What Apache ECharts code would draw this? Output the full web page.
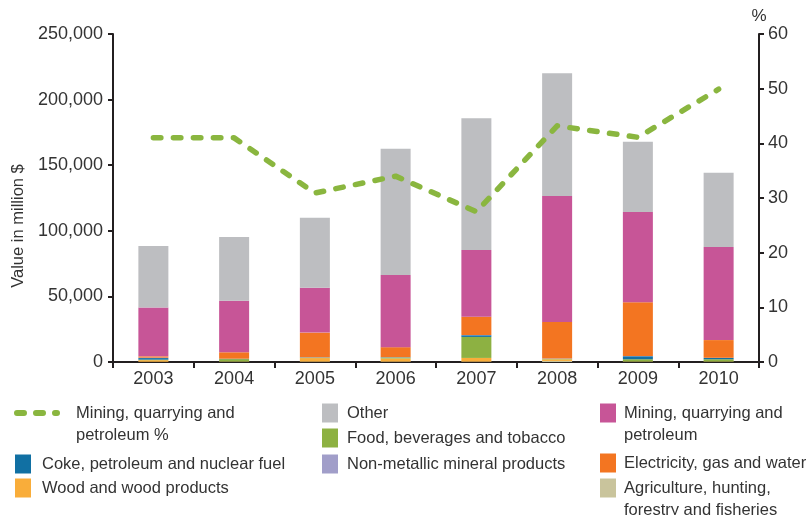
<!DOCTYPE html>
<html>
<head>
<meta charset="utf-8">
<script src="https://cdn.jsdelivr.net/npm/echarts@6/dist/echarts.min.js"></script>
<style>
  html, body { margin: 0; padding: 0; background: #fff; }
  #chart { width: 811px; height: 515px; }
</style>
</head>
<body>
<div id="chart"></div>
<script>
// Foreign direct investment stock by sector, 2003-2010 (million $)
const years = ['2003', '2004', '2005', '2006', '2007', '2008', '2009', '2010'];

const agriculture = [200, 200, 300, 300, 300, 800, 200, 200];
const wood        = [1200, 200, 2700, 2400, 2800, 1200, 200, 200];
const food        = [400, 1800, 300, 700, 16000, 300, 1700, 1700];
const coke        = [1200, 200, 200, 200, 1300, 200, 2300, 1000];
const nonMetallic = [300, 100, 100, 100, 200, 100, 200, 100];
const electricity = [1000, 4900, 18800, 7600, 13900, 27900, 40900, 13500];
const mining      = [37200, 39200, 34200, 55100, 50900, 96000, 68800, 70950];
const other       = [47000, 48600, 53400, 96050, 100350, 93550, 53600, 56650];

// Mining, quarrying and petroleum share (%)
const miningShare = [41.0, 41.0, 30.9, 34.0, 27.5, 43.2, 41.1, 49.9];

const valueTicks = { min: 0, max: 250000, interval: 50000 };
const shareTicks = { min: 0, max: 60, interval: 10 };

const NAMES = {
  share: 'Mining, quarrying and petroleum %',
  other: 'Other',
  mining: 'Mining, quarrying and petroleum',
  food: 'Food, beverages and tobacco',
  coke: 'Coke, petroleum and nuclear fuel',
  nonmet: 'Non-metallic mineral products',
  elec: 'Electricity, gas and water',
  wood: 'Wood and wood products',
  agri: 'Agriculture, hunting, forestry and fisheries'
};

const COLORS = {
  agri: '#c9c49c',
  wood: '#f9ad3a',
  food: '#8db142',
  coke: '#1170a3',
  nonmet: '#a19ec9',
  elec: '#f37521',
  mining: '#c75597',
  other: '#bdbec1',
  share: '#8ab63f'
};

const FONT = '"Liberation Sans", Arial, sans-serif';
const TEXT = '#333333';
const AXIS = '#231f20';

// Three rounded dashes, used as the key symbol of the share line
const DASH_ICON = 'path://M3,0H10A3,3 0 0 1 10,6H3A3,3 0 0 1 3,0Z' +
  'M22,0H29A3,3 0 0 1 29,6H22A3,3 0 0 1 22,0Z' +
  'M41,0H43A3,3 0 0 1 43,6H41A3,3 0 0 1 41,0Z';

const chart = echarts.init(document.getElementById('chart'), null, { renderer: 'canvas' });

function barSeries(key, data) {
  return {
    name: NAMES[key],
    type: 'bar',
    stack: 'total',
    barWidth: 30,
    data: data,
    itemStyle: { color: COLORS[key] },
    emphasis: { disabled: true }
  };
}

// One legend block per entry so each sits in its own slot of the three-column key.
// Two-line labels get a leading blank line so the symbol lines up with the first line.
function legendItem(name, left, top, opts) {
  opts = opts || {};
  const item = {
    show: true,
    orient: 'vertical',
    left: left,
    top: top,
    padding: 0,
    data: [name],
    selectedMode: false,
    icon: opts.icon || 'rect',
    itemWidth: opts.itemWidth || 16,
    itemHeight: opts.itemHeight || 19,
    textStyle: {
      fontFamily: FONT,
      fontSize: 16.5,
      color: TEXT,
      lineHeight: 22,
      padding: [0, 0, 0, opts.pad || 0]
    }
  };
  if (opts.lines) {
    item.formatter = () => '\n' + opts.lines.join('\n');
  }
  return item;
}

const legends = [
  legendItem(NAMES.share, 14, 380, { itemWidth: 46, itemHeight: 6, pad: 11, icon: DASH_ICON,
    lines: ['Mining, quarrying and', 'petroleum %'] }),
  legendItem(NAMES.coke, 15, 453, { pad: 6 }),
  legendItem(NAMES.wood, 15, 477, { pad: 6 }),
  legendItem(NAMES.other, 322, 402, { pad: 4 }),
  legendItem(NAMES.food, 322, 427, { pad: 4 }),
  legendItem(NAMES.nonmet, 322, 453, { pad: 4 }),
  legendItem(NAMES.mining, 600, 380, { pad: 3,
    lines: ['Mining, quarrying and', 'petroleum'] }),
  legendItem(NAMES.elec, 600, 452, { pad: 3 }),
  legendItem(NAMES.agri, 600, 455, { pad: 3,
    lines: ['Agriculture, hunting,', 'forestry and fisheries'] })
];

const option = {
  animation: false,
  backgroundColor: '#ffffff',
  textStyle: { fontFamily: FONT },
  grid: { left: 113, right: 52, top: 34, bottom: 153, containLabel: false },
  legend: legends,
  xAxis: {
    type: 'category',
    data: years,
    boundaryGap: true,
    axisLine: { show: true, lineStyle: { color: AXIS, width: 2 } },
    axisTick: { show: true, length: 6, lineStyle: { color: AXIS, width: 2 } },
    axisLabel: { fontFamily: FONT, fontSize: 18, color: TEXT, margin: 8 },
    splitLine: { show: false }
  },
  yAxis: [
    {
      type: 'value',
      min: valueTicks.min,
      max: valueTicks.max,
      interval: valueTicks.interval,
      name: 'Value in million $',
      nameLocation: 'middle',
      nameGap: 84,
      nameTextStyle: { fontFamily: FONT, fontSize: 16.5, color: TEXT, padding: [0, 56, 0, 0] },
      axisLine: { show: true, lineStyle: { color: AXIS, width: 2 } },
      axisTick: { show: true, length: 5, lineStyle: { color: AXIS, width: 2 } },
      axisLabel: {
        fontFamily: FONT, fontSize: 18, color: TEXT, margin: 10,
        formatter: v => v.toLocaleString('en-US')
      },
      splitLine: { show: false }
    },
    {
      type: 'value',
      position: 'right',
      min: shareTicks.min,
      max: shareTicks.max,
      interval: shareTicks.interval,
      name: '%',
      nameLocation: 'end',
      nameGap: 8,
      nameTextStyle: { fontFamily: FONT, fontSize: 17, color: TEXT, align: 'center' },
      axisLine: { show: true, lineStyle: { color: AXIS, width: 2 } },
      axisTick: { show: true, length: 5, lineStyle: { color: AXIS, width: 2 } },
      axisLabel: { fontFamily: FONT, fontSize: 18, color: TEXT, margin: 9 },
      splitLine: { show: false }
    }
  ],
  series: [
    barSeries('agri', agriculture),
    barSeries('wood', wood),
    barSeries('food', food),
    barSeries('coke', coke),
    barSeries('nonmet', nonMetallic),
    barSeries('elec', electricity),
    barSeries('mining', mining),
    barSeries('other', other),
    {
      name: NAMES.share,
      type: 'line',
      yAxisIndex: 1,
      data: miningShare,
      symbol: 'none',
      showSymbol: false,
      z: 10,
      lineStyle: {
        color: COLORS.share,
        width: 5.5,
        type: [7.5, 12.5],
        cap: 'round',
        join: 'round'
      },
      itemStyle: { color: COLORS.share },
      emphasis: { disabled: true }
    }
  ]
};

chart.setOption(option);
</script>
</body>
</html>
